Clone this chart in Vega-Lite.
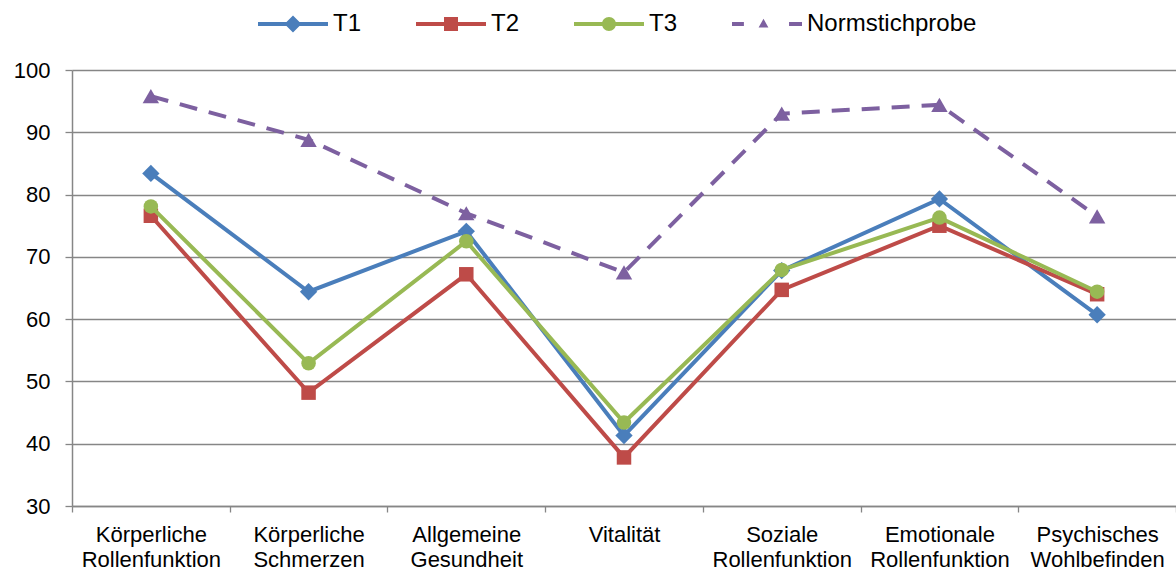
{
  "$schema": "https://vega.github.io/schema/vega-lite/v6.json",
  "width": 1104,
  "height": 436,
  "autosize": {"type": "none"},
  "padding": {"left": 72, "top": 70, "right": 0, "bottom": 64},
  "background": "white",
  "config": {
    "view": {"stroke": null},
    "font": "Liberation Sans"
  },
  "data": {
    "values": [
      {"category": "Körperliche Rollenfunktion", "series": "T1", "value": 83.4},
      {"category": "Körperliche Schmerzen", "series": "T1", "value": 64.4},
      {"category": "Allgemeine Gesundheit", "series": "T1", "value": 74.1},
      {"category": "Vitalität", "series": "T1", "value": 41.3},
      {"category": "Soziale Rollenfunktion", "series": "T1", "value": 67.8},
      {"category": "Emotionale Rollenfunktion", "series": "T1", "value": 79.3},
      {"category": "Psychisches Wohlbefinden", "series": "T1", "value": 60.7},
      {"category": "Körperliche Rollenfunktion", "series": "T2", "value": 76.6},
      {"category": "Körperliche Schmerzen", "series": "T2", "value": 48.2},
      {"category": "Allgemeine Gesundheit", "series": "T2", "value": 67.2},
      {"category": "Vitalität", "series": "T2", "value": 37.8},
      {"category": "Soziale Rollenfunktion", "series": "T2", "value": 64.7},
      {"category": "Emotionale Rollenfunktion", "series": "T2", "value": 75.0},
      {"category": "Psychisches Wohlbefinden", "series": "T2", "value": 64.0},
      {"category": "Körperliche Rollenfunktion", "series": "T3", "value": 78.1},
      {"category": "Körperliche Schmerzen", "series": "T3", "value": 52.9},
      {"category": "Allgemeine Gesundheit", "series": "T3", "value": 72.5},
      {"category": "Vitalität", "series": "T3", "value": 43.4},
      {"category": "Soziale Rollenfunktion", "series": "T3", "value": 67.9},
      {"category": "Emotionale Rollenfunktion", "series": "T3", "value": 76.3},
      {"category": "Psychisches Wohlbefinden", "series": "T3", "value": 64.4},
      {"category": "Körperliche Rollenfunktion", "series": "Normstichprobe", "value": 95.8},
      {"category": "Körperliche Schmerzen", "series": "Normstichprobe", "value": 88.8},
      {"category": "Allgemeine Gesundheit", "series": "Normstichprobe", "value": 77.0},
      {"category": "Vitalität", "series": "Normstichprobe", "value": 67.5},
      {"category": "Soziale Rollenfunktion", "series": "Normstichprobe", "value": 93.0},
      {"category": "Emotionale Rollenfunktion", "series": "Normstichprobe", "value": 94.4},
      {"category": "Psychisches Wohlbefinden", "series": "Normstichprobe", "value": 76.5}
    ]
  },
  "encoding": {
    "x": {
      "field": "category",
      "type": "nominal",
      "bandPosition": 0.5,
      "scale": {
        "type": "band",
        "domain": ["Körperliche Rollenfunktion", "Körperliche Schmerzen", "Allgemeine Gesundheit", "Vitalität", "Soziale Rollenfunktion", "Emotionale Rollenfunktion", "Psychisches Wohlbefinden"],
        "paddingInner": 0,
        "paddingOuter": 0
      },
      "axis": {
        "title": null,
        "labelAngle": 0,
        "labelFont": "Liberation Sans",
        "labelFontSize": 22,
        "labelColor": "black",
        "labelExpr": "split(datum.label, ' ')",
        "labelLineHeight": 25,
        "labelPadding": 12,
        "labelOverlap": false,
        "labelBound": false,
        "labelLimit": 400,
        "tickBand": "extent",
        "tickSize": 6,
        "tickColor": "#868686",
        "tickWidth": 1.3,
        "domainColor": "#868686",
        "domainWidth": 1.5,
        "grid": false
      }
    },
    "y": {
      "field": "value",
      "type": "quantitative",
      "scale": {"domain": [30, 100], "nice": false, "zero": false},
      "axis": {
        "title": null,
        "values": [30, 40, 50, 60, 70, 80, 90, 100],
        "labelFont": "Liberation Sans",
        "labelFontSize": 22,
        "labelColor": "black",
        "labelPadding": 15,
        "tickSize": 7,
        "tickColor": "#868686",
        "tickWidth": 1.3,
        "domainColor": "#868686",
        "domainWidth": 1.5,
        "grid": true,
        "gridColor": "#868686",
        "gridWidth": 1.3
      }
    }
  },
  "layer": [
    {
      "transform": [{"filter": "datum.series === 'T1'"}],
      "mark": {"type": "line", "color": "#4A7EBB", "strokeWidth": 4, "point": {"shape": "diamond", "size": 300, "filled": true, "color": "#4A7EBB", "opacity": 1}},
      "encoding": {}
    },
    {
      "transform": [{"filter": "datum.series === 'T2'"}],
      "mark": {"type": "line", "color": "#BE4B48", "strokeWidth": 4, "point": {"shape": "square", "size": 210, "filled": true, "color": "#BE4B48", "opacity": 1}},
      "encoding": {}
    },
    {
      "transform": [{"filter": "datum.series === 'T3'"}],
      "mark": {"type": "line", "color": "#98B954", "strokeWidth": 4, "point": {"shape": "circle", "size": 210, "filled": true, "color": "#98B954", "opacity": 1}},
      "encoding": {}
    },
    {
      "transform": [{"filter": "datum.series === 'Normstichprobe'"}],
      "mark": {"type": "line", "color": "#7D60A0", "strokeWidth": 4, "strokeDash": [18, 12], "point": {"shape": "triangle-up", "size": 270, "filled": true, "color": "#7D60A0", "opacity": 1}},
      "encoding": {}
    },
    {
      "transform": [{"filter": "datum.value > 1000"}],
      "mark": {"type": "point", "filled": true, "opacity": 1, "size": 4900},
      "encoding": {
        "color": {
          "field": "series",
          "type": "nominal",
          "scale": {"domain": ["T1", "T2", "T3", "Normstichprobe"], "range": ["#4A7EBB", "#BE4B48", "#98B954", "#7D60A0"]},
          "legend": {
            "title": null,
            "orient": "none",
            "legendX": 186,
            "legendY": -81,
            "direction": "horizontal",
            "columns": 4,
            "symbolSize": 4900,
            "symbolStrokeWidth": 0,
            "labelFont": "Liberation Sans",
            "labelFontSize": 24,
            "labelColor": "black",
            "labelOffset": 5,
            "labelLimit": 400,
            "columnPadding": 54,
            "padding": 0
          }
        },
        "shape": {
          "field": "series",
          "type": "nominal",
          "scale": {
            "domain": ["T1", "T2", "T3", "Normstichprobe"],
            "range": [
              "M-1,-0.057H1V0.057H-1Z M0,-0.243L0.243,0L0,0.243L-0.243,0Z",
              "M-1,-0.057H1V0.057H-1Z M-0.2,-0.2H0.2V0.2H-0.2Z",
              "M-1,-0.057H1V0.057H-1Z M-0.2,0A0.2,0.2 0 1,1 0.2,0A0.2,0.2 0 1,1 -0.2,0Z",
              "M-1,-0.06H-0.66V0.06H-1Z M-0.1,-0.15L0.04,0.1H-0.24Z M0.63,-0.06H1V0.06H0.63Z"
            ]
          },
          "legend": {
            "title": null,
            "orient": "none",
            "legendX": 186,
            "legendY": -81,
            "direction": "horizontal",
            "columns": 4,
            "symbolSize": 4900,
            "symbolStrokeWidth": 0,
            "labelFont": "Liberation Sans",
            "labelFontSize": 24,
            "labelColor": "black",
            "labelOffset": 5,
            "labelLimit": 400,
            "columnPadding": 54,
            "padding": 0
          }
        }
      }
    }
  ]
}
